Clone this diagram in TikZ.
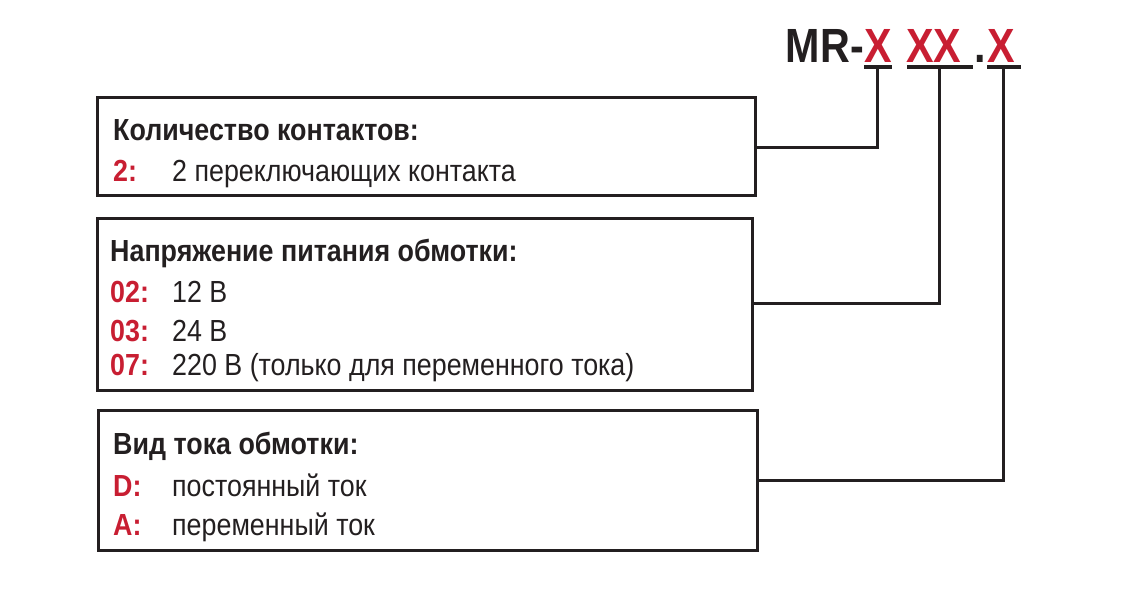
\documentclass[tikz,border=0pt]{standalone}
\usepackage{fontspec}
\setmainfont{Liberation Sans}[FakeStretch=0.88]
\newfontfamily\tf{Liberation Sans}[FakeStretch=0.86]
\definecolor{rd}{RGB}{200,30,50}
\definecolor{dk}{RGB}{35,31,32}
\begin{document}
\begin{tikzpicture}[x=1pt,y=-1pt,
  box/.style={draw=dk,line width=3pt},
  ln/.style={draw=dk,line width=3pt},
  ul/.style={draw=dk,line width=4pt},
  hd/.style={anchor=base west,font=\fontsize{30.5}{32}\selectfont\bfseries,text=dk,inner sep=0},
  tx/.style={anchor=base west,font=\fontsize{30.5}{32}\selectfont,text=dk,inner sep=0},
  kk/.style={anchor=base west,font=\fontsize{30.5}{32}\selectfont\bfseries,text=rd,inner sep=0},
  tt/.style={anchor=base west,inner sep=0,font=\tf\fontsize{48}{50}\selectfont\bfseries}]
\useasboundingbox (0,0) rectangle (1141,589);
% title
\node[tt,anchor=base east,text=dk] (mr) at (864,62) {MR-};
\node[tt,text=rd] (x1) at (864,62) {X};
\node[tt,text=rd] (x2) at (906,62) {XX};
\node[tt,text=dk] (dot) at (974,62) {.};
\node[tt,text=rd] (x3) at (987,62) {X};
\coordinate (u1a) at (864,67); \coordinate (u1b) at (892,67);
\coordinate (u2a) at (907,67); \coordinate (u2b) at (973,67);
\coordinate (u3a) at (987,67); \coordinate (u3b) at (1021,67);
\draw[ul] (u1a) -- (u1b); \draw[ul] (u2a) -- (u2b); \draw[ul] (u3a) -- (u3b);
% boxes
\draw[box] (97,97) rectangle (755,195); \coordinate (b1) at (755,147);
\draw[box] (97,218) rectangle (752,390); \coordinate (b2) at (752,303);
\draw[box] (98,410) rectangle (757,550); \coordinate (b3) at (757,480);
\draw[ln] (877,67) |- (b1);
\draw[ln] (939,67) |- (b2);
\draw[ln] (1003,67) |- (b3);
% texts
\node[hd] (h1) at (113,140) {Количество контактов:};
\node[kk] (k1) at (113,181) {2:}; \node[tx] (t1) at (172,181) {2 переключающих контакта};
\node[hd] (h2) at (110,261) {Напряжение питания обмотки:};
\node[kk] (k2) at (110,302) {02:}; \node[tx] (t2) at (172,302) {12 В};
\node[kk] (k3) at (110,341) {03:}; \node[tx] (t3) at (172,341) {24 В};
\node[kk] (k4) at (110,375) {07:}; \node[tx] (t4) at (172,375) {220 В (только для переменного тока)};
\node[hd] (h3) at (113,454) {Вид тока обмотки:};
\node[kk] (k5) at (113,496) {D:}; \node[tx] (t5) at (172,496) {постоянный ток};
\node[kk] (k6) at (113,535) {A:}; \node[tx] (t6) at (172,535) {переменный ток};
\end{tikzpicture}
\end{document}
